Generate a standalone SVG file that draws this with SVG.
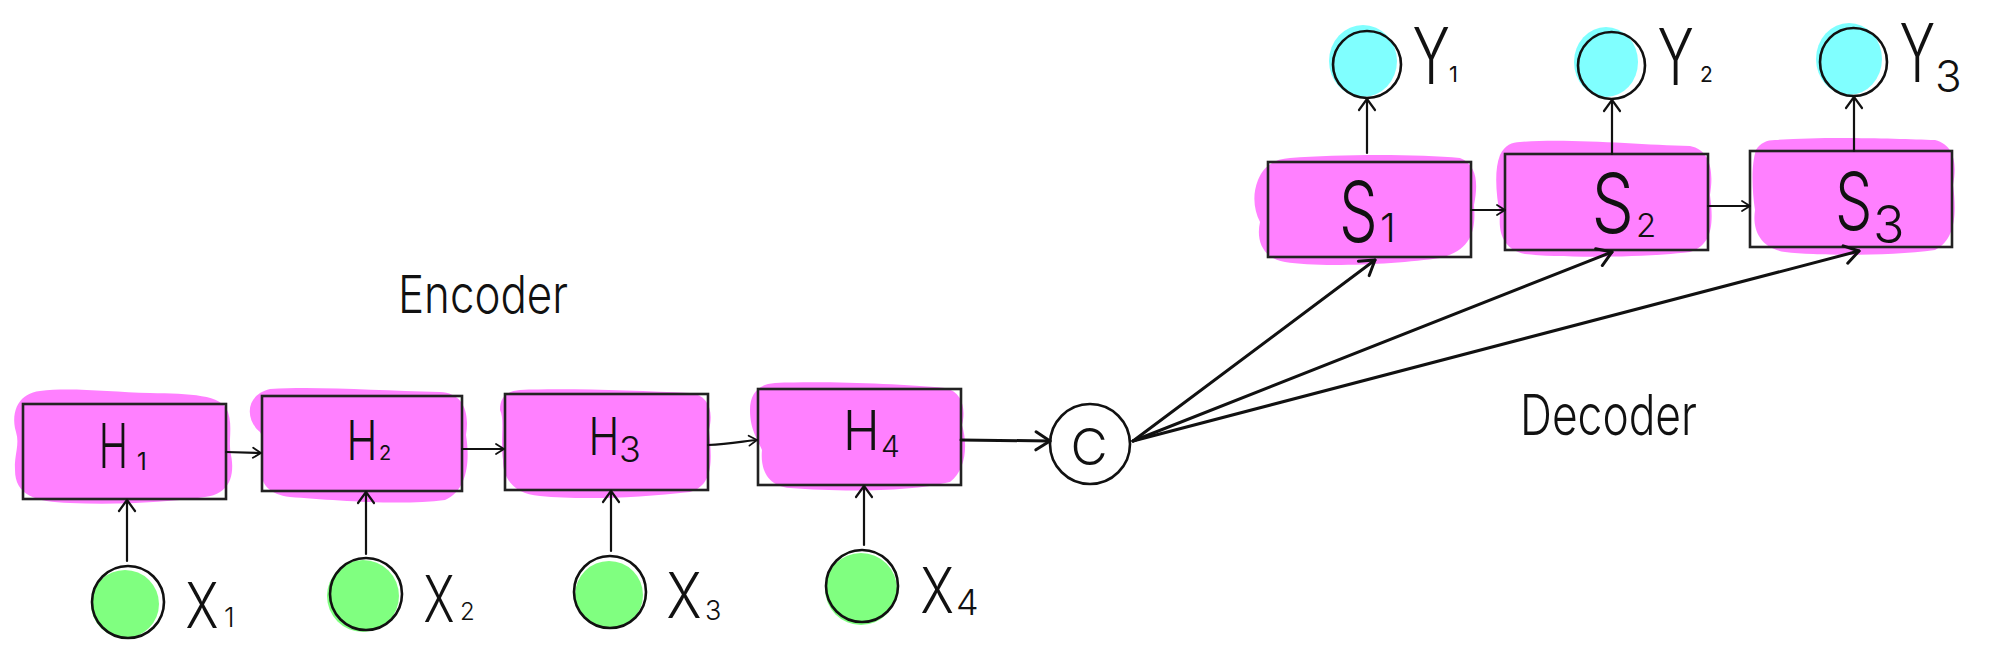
<svg xmlns="http://www.w3.org/2000/svg" width="1991" height="656" viewBox="0 0 1991 656">
<style>
.blob{fill:#ff80ff;stroke:none}
.box{fill:none;stroke:#222;stroke-width:2.6}
.gr{fill:#80ff80}
.cy{fill:#80ffff}
.ring{fill:none;stroke:#111;stroke-width:2.6}
.lbl{font-family:Inter,"Liberation Sans",sans-serif;font-weight:300;fill:#111}
.sub{font-family:Inter,"Liberation Sans",sans-serif;font-weight:400;fill:#111}
.ln{fill:none;stroke:#111;stroke-width:2.2;stroke-linecap:round}
.thick{stroke-width:3}
</style>
<defs>
<marker id="ah" viewBox="-14 -10 16 20" refX="0" refY="0" markerWidth="16" markerHeight="20" orient="auto" markerUnits="userSpaceOnUse"><path d="M -11,-8 L 0,0 L -11,8" fill="none" stroke="#111" stroke-width="2.2" stroke-linecap="round" stroke-linejoin="round"/></marker>
<marker id="as" viewBox="-10 -7 12 14" refX="0" refY="0" markerWidth="12" markerHeight="14" orient="auto" markerUnits="userSpaceOnUse"><path d="M -8,-5 L 0,0 L -8,5" fill="none" stroke="#111" stroke-width="1.8" stroke-linecap="round" stroke-linejoin="round"/></marker>
<marker id="al" viewBox="-16 -12 18 24" refX="0" refY="0" markerWidth="18" markerHeight="24" orient="auto" markerUnits="userSpaceOnUse"><path d="M -14,-9 L 0,0 L -14,9" fill="none" stroke="#111" stroke-width="3" stroke-linecap="round" stroke-linejoin="round"/></marker>
</defs>
<rect width="1991" height="656" fill="#fff"/>

<g id="H1">
<path class="blob" d="M 40,391 C 70,387 110,392 150,393 C 190,394 222,394 228,412 C 233,428 228,440 231,455 C 235,475 230,494 205,497 C 170,502 120,505 70,503 C 35,502 15,495 15,470 C 14,455 20,445 16,432 C 10,410 20,393 40,391 Z"/>
<rect class="box" x="23" y="404" width="203" height="95"/>
<text class="lbl" transform="translate(98.8,468) scale(0.64,1)" font-size="62">H</text>
<text class="sub" x="137" y="470" font-size="24">1</text>
</g>
<g id="H2">
<path class="blob" d="M 270,389 C 320,386 380,391 440,392 C 462,393 470,410 466,435 C 470,460 468,490 445,500 C 400,506 330,500 290,497 C 265,494 258,480 262,460 C 262,447 265,440 260,432 C 245,420 245,395 270,389 Z"/>
<rect class="box" x="262" y="396" width="200" height="95"/>
<text class="lbl" transform="translate(346.6,460) scale(0.76,1)" font-size="55">H</text>
<text class="sub" x="379" y="460" font-size="20">2</text>
</g>
<g id="H3">
<path class="blob" d="M 520,390 C 570,388 640,391 690,393 C 708,395 714,410 709,430 C 712,460 714,485 690,492 C 640,498 580,500 540,496 C 515,494 503,480 503,460 C 500,440 505,420 500,410 C 500,396 508,391 520,390 Z"/>
<rect class="box" x="505" y="394" width="203" height="96"/>
<text class="lbl" transform="translate(588.6,455) scale(0.8,1)" font-size="52">H</text>
<text class="lbl" x="619" y="462" font-size="36">3</text>
</g>
<g id="H4">
<path class="blob" d="M 775,383 C 830,381 900,384 945,388 C 963,392 966,410 962,425 C 968,445 966,470 950,482 C 910,492 840,492 790,488 C 768,486 760,470 762,450 C 758,440 750,430 750,410 C 750,392 760,384 775,383 Z"/>
<rect class="box" x="758" y="389" width="203" height="96"/>
<text class="lbl" transform="translate(843,450) scale(0.9,1)" font-size="55">H</text>
<text class="lbl" x="881" y="457" font-size="30">4</text>
</g>

<g id="X1">
<circle class="gr" cx="125" cy="604" r="34"/>
<circle class="ring" cx="128" cy="602" r="36"/>
<text class="lbl" transform="translate(185.5,628) scale(0.79,1)" font-size="63">X</text>
<text class="lbl" x="224" y="627" font-size="27">1</text>
</g>
<g id="X2">
<circle class="gr" cx="363" cy="596" r="36"/>
<circle class="ring" cx="366" cy="594" r="36"/>
<text class="lbl" transform="translate(423.6,622) scale(0.73,1)" font-size="64">X</text>
<text class="lbl" x="460" y="620" font-size="24">2</text>
</g>
<g id="X3">
<circle class="gr" cx="609" cy="595" r="34"/>
<circle class="ring" cx="610" cy="592" r="36"/>
<text class="lbl" transform="translate(666.4,618) scale(0.84,1)" font-size="63">X</text>
<text class="lbl" x="705" y="620" font-size="27">3</text>
</g>
<g id="X4">
<circle class="gr" cx="861" cy="589" r="36"/>
<circle class="ring" cx="862" cy="586" r="36"/>
<text class="lbl" transform="translate(920.4,613) scale(0.8,1)" font-size="63">X</text>
<text class="lbl" x="956" y="615" font-size="36">4</text>
</g>

<g id="C">
<ellipse class="ring" cx="1090" cy="444" rx="40" ry="40"/>
<text class="lbl" x="1089" y="465" font-size="51" text-anchor="middle">C</text>
</g>

<g id="S1">
<path class="blob" d="M 1290,158 C 1340,154 1420,154 1460,158 C 1478,165 1478,185 1474,205 C 1476,230 1472,250 1440,258 C 1400,264 1320,268 1285,262 C 1262,258 1256,240 1260,222 C 1254,210 1252,195 1258,180 C 1264,165 1275,159 1290,158 Z"/>
<rect class="box" x="1268" y="162" width="203" height="95"/>
<text class="lbl" transform="translate(1338.9,242) scale(0.73,1)" font-size="84">S</text>
<text class="lbl" x="1380" y="242" font-size="40">1</text>
</g>
<g id="S2">
<path class="blob" d="M 1520,142 C 1570,138 1640,145 1690,146 C 1710,150 1714,170 1710,195 C 1714,225 1712,245 1690,252 C 1640,258 1560,258 1525,254 C 1505,250 1498,235 1500,215 C 1496,195 1494,170 1500,155 C 1505,145 1512,142 1520,142 Z"/>
<rect class="box" x="1505" y="154" width="203" height="96"/>
<text class="lbl" transform="translate(1591.6,233) scale(0.82,1)" font-size="82">S</text>
<text class="lbl" x="1636" y="237" font-size="33">2</text>
</g>
<g id="S3">
<path class="blob" d="M 1775,140 C 1830,136 1900,139 1935,140 C 1955,145 1957,165 1953,185 C 1957,215 1955,240 1935,250 C 1890,256 1820,256 1785,252 C 1760,248 1752,230 1755,210 C 1752,190 1751,165 1756,150 C 1760,143 1767,140 1775,140 Z"/>
<rect class="box" x="1750" y="151" width="202" height="96"/>
<text class="lbl" transform="translate(1835,230) scale(0.74,1)" font-size="80">S</text>
<text class="lbl" x="1873" y="243" font-size="52">3</text>
</g>

<g id="Y1">
<ellipse class="cy" cx="1363" cy="61" rx="34" ry="36"/>
<ellipse class="ring" cx="1367" cy="64.5" rx="34" ry="33.5"/>
<text class="lbl" transform="translate(1412.4,84) scale(0.72,1)" font-size="78">Y</text>
<text class="sub" x="1449" y="82" font-size="22">1</text>
</g>
<g id="Y2">
<ellipse class="cy" cx="1606" cy="62" rx="32" ry="35"/>
<ellipse class="ring" cx="1611.5" cy="65.5" rx="33.5" ry="33.5"/>
<text class="lbl" transform="translate(1657.5,85) scale(0.69,1)" font-size="79">Y</text>
<text class="sub" x="1700" y="82" font-size="21">2</text>
</g>
<g id="Y3">
<ellipse class="cy" cx="1849" cy="59" rx="33" ry="36"/>
<ellipse class="ring" cx="1853.5" cy="62" rx="33.5" ry="34"/>
<text class="lbl" transform="translate(1899.5,82) scale(0.66,1)" font-size="81">Y</text>
<text class="lbl" x="1935" y="92" font-size="44">3</text>
</g>

<g id="labels">
<text class="lbl" x="398" y="313" font-size="52" textLength="170" lengthAdjust="spacingAndGlyphs">Encoder</text>
<text class="lbl" x="1520" y="435" font-size="56" textLength="177" lengthAdjust="spacingAndGlyphs">Decoder</text>
</g>

<g id="connectors">
<path class="ln" marker-end="url(#as)" d="M 226,452 L 261,453"/>
<path class="ln" marker-end="url(#as)" d="M 462,449 L 504,449"/>
<path class="ln" marker-end="url(#as)" d="M 708,445 C 730,444 745,441 757,440"/>
<path class="ln thick" marker-end="url(#al)" d="M 961,440 L 1050,441"/>
<path class="ln" marker-end="url(#ah)" d="M 127,561 L 127,500"/>
<path class="ln" marker-end="url(#ah)" d="M 366,554 L 366,492"/>
<path class="ln" marker-end="url(#ah)" d="M 611,551 L 611,491"/>
<path class="ln" marker-end="url(#ah)" d="M 864,545 L 864,486"/>
<path class="ln thick" marker-end="url(#al)" d="M 1133,441 L 1375,260"/>
<path class="ln thick" marker-end="url(#al)" d="M 1133,441 L 1612,252"/>
<path class="ln thick" marker-end="url(#al)" d="M 1133,441 L 1859,251"/>
<path class="ln" marker-end="url(#as)" d="M 1471,210 L 1505,210"/>
<path class="ln" marker-end="url(#as)" d="M 1708,206 L 1750,206"/>
<path class="ln" marker-end="url(#ah)" d="M 1367,153 L 1367,99"/>
<path class="ln" marker-end="url(#ah)" d="M 1612,154 L 1612,100"/>
<path class="ln" marker-end="url(#ah)" d="M 1854,151 L 1854,97"/>
</g>
</svg>
